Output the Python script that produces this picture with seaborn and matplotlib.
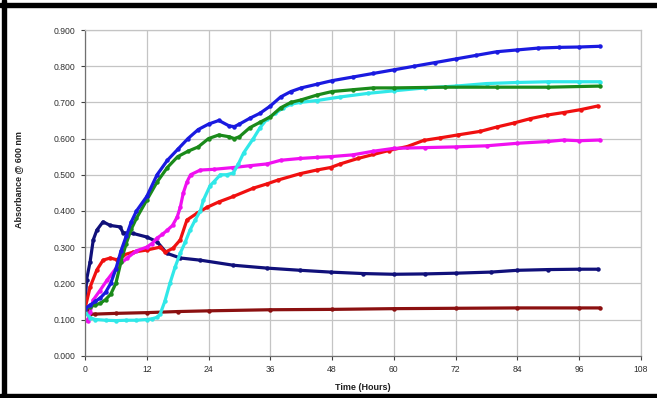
import matplotlib
matplotlib.use("Agg")
import matplotlib.pyplot as plt
import seaborn as sns
import pandas as pd
from matplotlib.ticker import FormatStrFormatter, MultipleLocator
from matplotlib.patches import Rectangle

# ---- data ----
t_maroon = [0, 0.5, 1, 2, 6, 12, 18, 24, 36, 48, 60, 72, 84, 96, 100]
v_maroon = [0.13, 0.125, 0.115, 0.115, 0.117, 0.119, 0.122, 0.124, 0.127, 0.128, 0.13, 0.131, 0.132, 0.132, 0.132]

t_navy = [0, 0.3, 1, 1.6, 2.3, 3.5, 4.9, 6.8, 7.4, 9.3, 12, 14, 15.9, 18.5, 22.4, 28.8, 35.4, 41.8,
          47.7, 54, 60, 66, 72, 78.8, 84, 90, 96, 99.6]
v_navy = [0.13, 0.21, 0.26, 0.32, 0.347, 0.37, 0.36, 0.356, 0.34, 0.338, 0.328, 0.315, 0.283, 0.27,
          0.264, 0.25, 0.242, 0.236, 0.231, 0.227, 0.225, 0.226, 0.228, 0.231, 0.236, 0.238, 0.239, 0.239]

t_red = [0, 1, 2.3, 3.5, 4.9, 6.2, 7.4, 9.3, 12, 14.6, 15.6, 17.1, 18.5, 19.8, 21.8, 23.7, 26, 28.8,
         32.7, 35.4, 37.4, 41.8, 45, 47.7, 49.6, 53, 56, 59, 62.6, 65.8, 69, 72.4, 76.8, 80, 83.3,
         86.5, 89.8, 93, 96.3, 99.6]
v_red = [0.13, 0.19, 0.237, 0.264, 0.27, 0.265, 0.278, 0.286, 0.292, 0.30, 0.286, 0.297, 0.32, 0.375,
         0.394, 0.41, 0.425, 0.44, 0.463, 0.475, 0.485, 0.503, 0.513, 0.52, 0.53, 0.545, 0.556, 0.567,
         0.578, 0.595, 0.602, 0.61, 0.62, 0.632, 0.643, 0.655, 0.665, 0.672, 0.68, 0.69]

t_magenta = [0, 0.5, 1, 1.6, 2.9, 4.3, 6.2, 8.2, 10, 12, 13, 14, 15, 16, 17, 17.9, 18.5, 19.1, 19.8,
             20.5, 22.4, 25, 28.8, 32, 35.4, 38, 41.8, 45, 47.7, 52, 56, 60, 66, 72, 78, 84, 90, 93, 96, 100]
v_magenta = [0.10, 0.095, 0.12, 0.154, 0.18, 0.209, 0.245, 0.27, 0.29, 0.30, 0.31, 0.325, 0.335, 0.347,
             0.36, 0.383, 0.41, 0.45, 0.48, 0.50, 0.513, 0.515, 0.52, 0.525, 0.53, 0.54, 0.545, 0.548,
             0.55, 0.555, 0.565, 0.573, 0.575, 0.577, 0.58, 0.587, 0.592, 0.596, 0.594, 0.596]

t_cyan = [0, 1, 2, 4, 6, 8, 10, 12, 13, 14, 14.6, 15.5, 16.5, 17.5, 18.5, 19.5, 20.4, 21.4, 22.4, 23,
          24.3, 25, 26.3, 27.5, 28.8, 29.8, 30.8, 32.7, 34, 35.4, 37, 38.5, 40, 41.8, 45, 49.6, 55, 60,
          66, 72, 78, 84, 90, 96, 100]
v_cyan = [0.12, 0.105, 0.10, 0.098, 0.097, 0.098, 0.098, 0.10, 0.102, 0.106, 0.115, 0.15, 0.20, 0.245,
          0.283, 0.315, 0.347, 0.375, 0.40, 0.43, 0.47, 0.48, 0.50, 0.50, 0.505, 0.53, 0.56, 0.60, 0.63,
          0.655, 0.67, 0.685, 0.695, 0.70, 0.705, 0.715, 0.725, 0.732, 0.74, 0.745, 0.752, 0.755, 0.757,
          0.757, 0.757]

t_green = [0, 1, 2, 3, 4, 5, 6, 7, 8, 9, 10, 12, 14, 16, 18, 20, 22, 24, 26, 28, 29, 30, 32, 34, 36,
           38, 40, 42, 45, 48, 52, 56, 60, 70, 80, 90, 100]
v_green = [0.13, 0.135, 0.14, 0.145, 0.155, 0.17, 0.20, 0.26, 0.31, 0.35, 0.38, 0.43, 0.48, 0.52, 0.55,
           0.565, 0.577, 0.60, 0.61, 0.605, 0.60, 0.605, 0.63, 0.645, 0.66, 0.685, 0.70, 0.707, 0.72,
           0.73, 0.735, 0.74, 0.74, 0.742, 0.742, 0.742, 0.745]

t_blue = [0, 1, 2, 3, 4, 5, 6, 7, 8, 9, 10, 12, 14, 16, 18, 20, 22, 24, 26, 28, 29, 30, 32, 34, 36, 38,
          40, 42, 45, 48, 52, 56, 60, 64, 68, 72, 76, 80, 84, 88, 92, 96, 100]
v_blue = [0.13, 0.14, 0.15, 0.16, 0.175, 0.20, 0.24, 0.29, 0.33, 0.37, 0.40, 0.44, 0.50, 0.54, 0.57,
          0.60, 0.625, 0.64, 0.65, 0.635, 0.633, 0.64, 0.656, 0.67, 0.69, 0.715, 0.73, 0.74, 0.75, 0.76,
          0.77, 0.78, 0.79, 0.80, 0.81, 0.82, 0.83, 0.84, 0.845, 0.85, 0.852, 0.853, 0.855]

x_ticks = [0, 12, 24, 36, 48, 60, 72, 84, 96, 108]

series = [
    ("maroon", t_maroon, v_maroon, "#8b1010"),
    ("navy", t_navy, v_navy, "#10107a"),
    ("red", t_red, v_red, "#f01010"),
    ("magenta", t_magenta, v_magenta, "#f010f0"),
    ("cyan", t_cyan, v_cyan, "#30e8e8"),
    ("green", t_green, v_green, "#1a8a1a"),
    ("blue", t_blue, v_blue, "#1a1ae0"),
]

rows = []
for name, ts, vs, _ in series:
    for t, v in zip(ts, vs):
        rows.append({"series": name, "t": t, "v": v})
df = pd.DataFrame(rows)
palette = {name: c for name, _, _, c in series}

sns.set_style("white")
plt.rcParams["font.family"] = ["Liberation Sans", "DejaVu Sans"]

fig = plt.figure(figsize=(6.57, 3.98), dpi=100)
ax = fig.add_axes([85 / 657, 1 - 355.7 / 398, (641 - 85) / 657, (355.7 - 30) / 398])

sns.lineplot(data=df, x="t", y="v", hue="series", hue_order=[s[0] for s in series],
             palette=palette, estimator=None, sort=False, linewidth=2.3,
             marker="o", markersize=3.2, markeredgewidth=0, legend=False, ax=ax)

ax.set_xlim(0, 108)
ax.set_ylim(0, 0.9)
ax.set_xticks(x_ticks)
ax.yaxis.set_major_locator(MultipleLocator(0.1))
ax.yaxis.set_major_formatter(FormatStrFormatter("%.3f"))
ax.grid(True, color="#c4c4c4", linewidth=0.9)
ax.set_axisbelow(True)
for side in ["top", "right"]:
    ax.spines[side].set_color("#c4c4c4")
    ax.spines[side].set_linewidth(0.9)
for side in ["left", "bottom"]:
    ax.spines[side].set_color("#707070")
    ax.spines[side].set_linewidth(0.9)
ax.tick_params(axis="both", which="major", labelsize=6.2, colors="#404040",
               length=3, width=0.8, direction="out", bottom=True, left=True, pad=4)
for lab in ax.get_xticklabels() + ax.get_yticklabels():
    lab.set_color("#303030")

ax.set_xlabel("Time (Hours)", fontsize=6.5, fontweight="bold", color="#202020", labelpad=6)
ax.set_ylabel("Absorbance @ 600 nm", fontsize=6.5, fontweight="bold", color="#202020")
ax.yaxis.set_label_coords(-0.112, 0.54)

# black frame (left, top, bottom edges)
fig.patches.append(Rectangle((2 / 657, 0), 4 / 657, 1, transform=fig.transFigure,
                             color="black", zorder=10))
fig.patches.append(Rectangle((0, 1 - 7 / 398), 1, 4 / 398, transform=fig.transFigure,
                             color="black", zorder=10))
fig.patches.append(Rectangle((0, 0), 1, 4 / 398, transform=fig.transFigure,
                             color="black", zorder=10))

fig.savefig("out.png", dpi=100, facecolor="white")
